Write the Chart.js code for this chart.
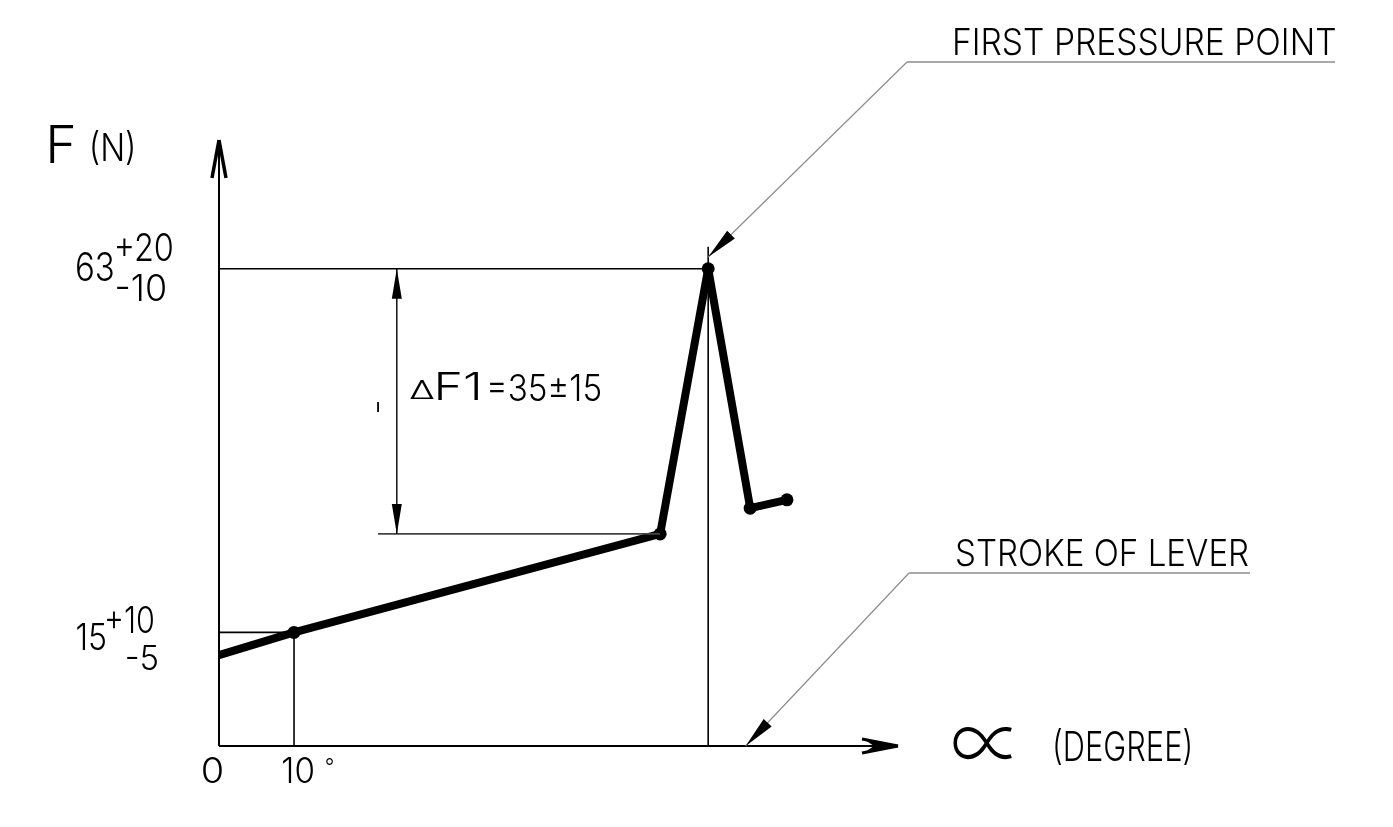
<!DOCTYPE html>
<html>
<head>
<meta charset="utf-8">
<script src="https://cdn.jsdelivr.net/npm/chart.js@4"></script>
<style>
  html, body { margin: 0; padding: 0; background: #fff; }
  #wrap { width: 1393px; height: 827px; position: relative; }
</style>
</head>
<body>
<div id="wrap"><canvas id="chart"></canvas></div>
<script>
// lever force curve
const alphaDeg = [0, 10, 58.8, 65.2, 70.8, 75.7];
const forceN = [12, 15, 28, 63, 31.4, 32.5];

// axis marks
const xTickValues = [0, 10];
const xTickLabels = ["0", "10"];
const yTickValues = [15, 63];
const yTickLabels = ["15", "63"];
const yTolUpper = ["+10", "+20"];
const yTolLower = ["-5", "-10"];

// extra construction values (degree / N)
const deltaLineStartDeg = 21.2;
const deltaDimDeg = 23.7;
const peakTickTopN = 65.9;
const alphaMax = 90.5;
const forceMax = 80;

const FONT = '300 100px Inter, "Liberation Sans Narrow", "DejaVu Sans", sans-serif';
const SYMBOL_FONT = '300 100px "Noto Sans CJK SC", "DejaVu Sans", sans-serif';

// squeeze a string into a box so it looks like the CAD lettering
function fitText(ctx, s, left, top, right, bottom, font) {
  ctx.save();
  ctx.font = font || FONT;
  const m = ctx.measureText(s);
  const bw = m.actualBoundingBoxLeft + m.actualBoundingBoxRight;
  const bh = m.actualBoundingBoxAscent + m.actualBoundingBoxDescent;
  const sx = (right - left) / bw;
  const sy = (bottom - top) / bh;
  ctx.translate(left + m.actualBoundingBoxLeft * sx, top + m.actualBoundingBoxAscent * sy);
  ctx.scale(sx, sy);
  ctx.textAlign = "left";
  ctx.textBaseline = "alphabetic";
  ctx.fillStyle = "#000";
  ctx.fillText(s, 0, 0);
  ctx.restore();
}

function line(ctx, x1, y1, x2, y2, w, color) {
  ctx.beginPath();
  ctx.moveTo(x1, y1);
  ctx.lineTo(x2, y2);
  ctx.lineWidth = w;
  ctx.strokeStyle = color || "#000";
  ctx.stroke();
}

// filled arrow head with its tip at (tx, ty), coming from (fx, fy)
function arrowHead(ctx, tx, ty, fx, fy, len, half) {
  const a = Math.atan2(ty - fy, tx - fx);
  const bx = tx - len * Math.cos(a), by = ty - len * Math.sin(a);
  const px = -Math.sin(a) * half, py = Math.cos(a) * half;
  ctx.beginPath();
  ctx.moveTo(tx, ty);
  ctx.lineTo(bx + px, by + py);
  ctx.lineTo(bx - px, by - py);
  ctx.closePath();
  ctx.fillStyle = "#000";
  ctx.fill();
}

const seg = (x1, y1, x2, y2) => [{ x: x1, y: y1 }, { x: x2, y: y2 }];
const refStyle = { showLine: true, borderColor: "#000", borderWidth: 1.6, pointRadius: 0, clip: false };

const drawing = {
  id: "drawing",
  afterDatasetsDraw(chart) {
    const ctx = chart.ctx;
    const xs = chart.scales.x, ys = chart.scales.y;
    const X = v => xs.getPixelForValue(v);
    const Y = v => ys.getPixelForValue(v);
    const x0 = X(0), y0 = Y(0);
    ctx.save();
    ctx.lineCap = "butt";

    // axes
    line(ctx, x0, y0, X(alphaMax) - 4, y0, 2);
    line(ctx, x0, y0, x0, Y(forceMax) + 4, 2);
    // y arrow: two heavy strokes
    const yt = Y(forceMax);
    line(ctx, x0, yt, x0 - 7, yt + 38, 3.5);
    line(ctx, x0, yt, x0 + 7, yt + 38, 3.5);
    // x arrow: notched head
    const xt = X(alphaMax);
    ctx.beginPath();
    ctx.moveTo(xt, y0);
    ctx.lineTo(xt - 36, y0 - 8);
    ctx.lineTo(xt - 24, y0);
    ctx.lineTo(xt - 36, y0 + 8);
    ctx.closePath();
    ctx.fillStyle = "#000";
    ctx.fill();
    line(ctx, xt, y0, xt - 36, y0 - 7, 3);
    line(ctx, xt, y0, xt - 36, y0 + 7, 3);

    // delta F dimension
    const dx = X(deltaDimDeg);
    const yTop = Y(forceN[3]), yBot = Y(forceN[2]);
    line(ctx, dx, yTop, dx, yBot, 1.4);
    arrowHead(ctx, dx, yTop, dx, yTop + 10, 30, 5);
    arrowHead(ctx, dx, yBot, dx, yBot - 10, 30, 5);
    // stray tick left of the dimension
    const sx = X(deltaLineStartDeg);
    line(ctx, sx, 402, sx, 412, 1.8);

    // leaders
    const grey = "#8c8c8c";
    const t1x = X(alphaDeg[3]), t1y = 257;
    line(ctx, 907, 62, t1x, t1y, 1.2, grey);
    line(ctx, 907, 62, 1335, 62, 1.6, grey);
    arrowHead(ctx, t1x, t1y, 907, 62, 32, 5.5);
    const t2x = X(70.2), t2y = y0;
    line(ctx, 909, 573, t2x, t2y, 1.2, grey);
    line(ctx, 909, 573, 1250, 573, 1.6, grey);
    arrowHead(ctx, t2x, t2y, 909, 573, 32, 5.5);

    // lettering
    fitText(ctx, "F", 50, 125, 73, 163);
    fitText(ctx, "(N)", 92, 129, 133, 164);

    // y tick labels with tolerances
    const r0 = Y(yTickValues[0]), r1 = Y(yTickValues[1]);
    fitText(ctx, yTickLabels[1], 77, r1 - 17, 113, r1 + 13);
    fitText(ctx, yTolUpper[1], 117, r1 - 36, 172, r1 - 7);
    fitText(ctx, yTolLower[1], 117, r1 + 6, 165, r1 + 33);
    fitText(ctx, yTickLabels[0], 77, r0 - 9, 105, r0 + 18);
    fitText(ctx, yTolUpper[0], 107, r0 - 27, 153, r0 + 1);
    fitText(ctx, yTolLower[0], 127, r0 + 13, 157, r0 + 38);

    // x tick labels
    const c0 = X(xTickValues[0]), c1 = X(xTickValues[1]);
    fitText(ctx, xTickLabels[0], c0 - 16, y0 + 11, c0 + 3, y0 + 37);
    fitText(ctx, xTickLabels[1], c1 - 11, y0 + 11, c1 + 19, y0 + 37);
    fitText(ctx, "°", c1 + 32, y0 + 12, c1 + 39, y0 + 19);

    // delta label
    fitText(ctx, "Δ", 410, 380, 434, 399);
    fitText(ctx, "F1", 438, 372, 478, 400);
    fitText(ctx, "=35±15", 490, 373, 600, 401);

    fitText(ctx, "FIRST PRESSURE POINT", 955, 28, 1335, 56);
    fitText(ctx, "STROKE OF LEVER", 957, 539, 1248, 567);
    fitText(ctx, "∝", 953, 727, 1012, 760, SYMBOL_FONT);
    fitText(ctx, "(DEGREE)", 1055, 728, 1190, 765);

    ctx.restore();
  }
};

new Chart(document.getElementById("chart"), {
  type: "scatter",
  data: {
    datasets: [
      Object.assign({ data: seg(0, forceN[3], alphaDeg[3], forceN[3]) }, refStyle),
      Object.assign({ data: seg(alphaDeg[3], 0, alphaDeg[3], peakTickTopN) }, refStyle),
      Object.assign({ data: seg(0, forceN[1], alphaDeg[1], forceN[1]) }, refStyle),
      Object.assign({ data: seg(alphaDeg[1], 0, alphaDeg[1], forceN[1]) }, refStyle),
      Object.assign({ data: seg(deltaLineStartDeg, forceN[2], alphaDeg[2], forceN[2]) }, refStyle, { borderColor: "#444" }),
      {
        data: alphaDeg.map((a, i) => ({ x: a, y: forceN[i] })),
        showLine: true,
        borderColor: "#000",
        borderWidth: 8,
        borderJoinStyle: "round",
        pointRadius: alphaDeg.map((a, i) => (i === 0 ? 0 : 6.5)),
        pointBackgroundColor: "#000",
        pointBorderWidth: 0,
        clip: false
      }
    ]
  },
  options: {
    responsive: true,
    maintainAspectRatio: false,
    animation: false,
    layout: { padding: { left: 219, right: 495, top: 140, bottom: 81 } },
    plugins: { legend: { display: false }, tooltip: { enabled: false } },
    scales: {
      x: { type: "linear", min: 0, max: alphaMax, display: false },
      y: { type: "linear", min: 0, max: forceMax, display: false }
    }
  },
  plugins: [drawing]
});
</script>
</body>
</html>
